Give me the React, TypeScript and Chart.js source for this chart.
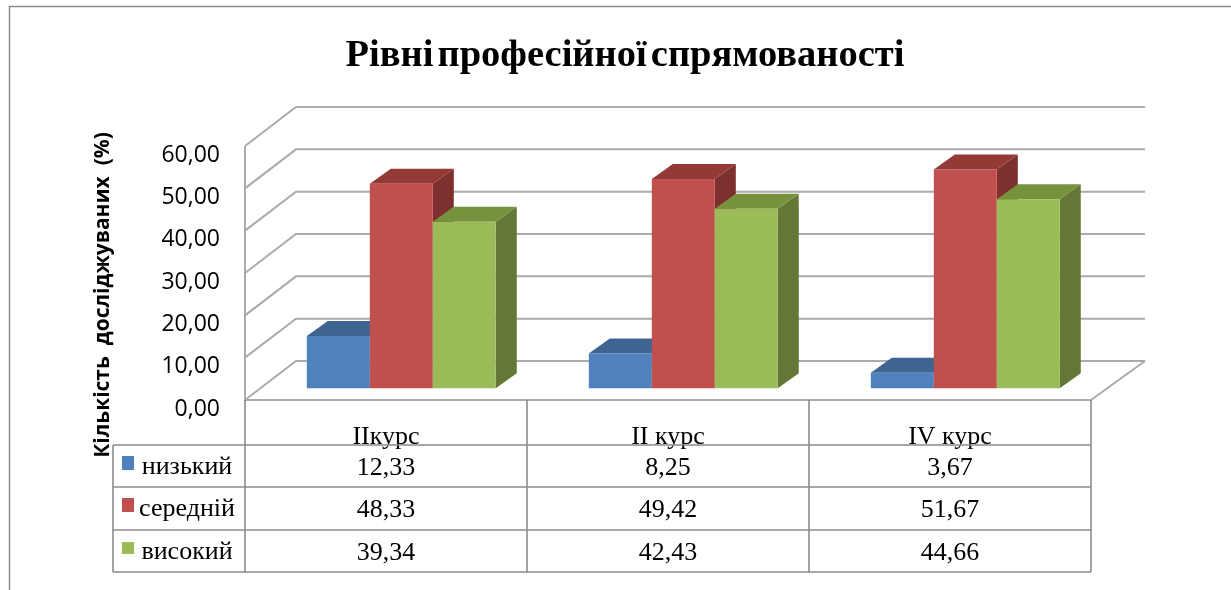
import React, { useEffect, useRef } from "react";
import { Chart, registerables } from "chart.js";

Chart.register(...registerables);

const chartTitle = "Рівні професійної спрямованості";
const yAxisTitle = "Кількість  досліджуваних  (%)";
const categories = ["IIкурс", "II курс", "IV курс"];
const seriesNames = ["низький", "середній", "високий"];
const low = [12.33, 8.25, 3.67];
const medium = [48.33, 49.42, 51.67];
const high = [39.34, 42.43, 44.66];
const seriesValues = [low, medium, high];
const frontColors = ["#4F81BD", "#C0504D", "#9BBB59"];
const topColors = ["#3E6491", "#933A37", "#76923D"];
const sideColors = ["#365E8F", "#7E302E", "#657736"];

const SERIF = '"Liberation Serif"';
const fmt = (v: number) => v.toFixed(2).replace(".", ",");

// 3D geometry (pixels)
const PLOT_TOP = 155;
const PLOT_BOTTOM = 409;
const WALL_UP = 9; // tick labels sit this far below the front wall lines
const WALL_DX = 51;
const WALL_DY = -39;
const BAR_DX = 15.3;
const BAR_DY = -20.7;
const DEPTH_DX = 21;
const DEPTH_DY = -15;
const TABLE_LEFT = 113;
const ROW_LINES = [445, 487, 530, 572];
const ROW_TEXT = [468, 510, 553];
const SWATCH_Y = [456, 498, 542];
const SWATCH_H = [14, 14, 12];

const plugin3d = {
  id: "plugin3d",
  afterLayout(chart: any) {
    // moves the vertical axis title down, next to the data table
    chart.scales.y.bottom += 26;
    // the title's word gaps are narrow in the reference
    const tb = chart.titleBlock;
    if (tb && !tb.__wrapped) {
      tb.__wrapped = true;
      const original = tb.draw;
      tb.draw = function (...args: any[]) {
        tb.ctx.wordSpacing = "-5.5px";
        original.apply(tb, args);
        tb.ctx.wordSpacing = "0px";
      };
    }
  },
  beforeDatasetDraw() {
    return false;
  },
  beforeDatasetsDraw(chart: any) {
    const { ctx, scales } = chart;
    const { x, y } = scales;
    const left = x.left;
    const right = x.right;
    ctx.save();
    ctx.strokeStyle = "#ABABAB";
    ctx.lineWidth = 2;
    ctx.beginPath();
    y.ticks.forEach((t: any) => {
      const yf = y.getPixelForValue(t.value) - WALL_UP;
      ctx.moveTo(left, yf);
      ctx.lineTo(left + WALL_DX, yf + WALL_DY);
      ctx.lineTo(right + WALL_DX + 3, yf + WALL_DY);
    });
    const y0 = y.getPixelForValue(0) - WALL_UP;
    const y60 = y.getPixelForValue(60) - WALL_UP;
    ctx.moveTo(left, y60);
    ctx.lineTo(left, y0);
    ctx.lineTo(right, y0);
    ctx.lineTo(right + WALL_DX + 3, y0 + WALL_DY);
    ctx.stroke();
    ctx.restore();
  },
  afterDatasetsDraw(chart: any) {
    const { ctx, scales } = chart;
    const { x, y } = scales;
    chart.data.datasets.forEach((_: any, i: number) => {
      const meta = chart.getDatasetMeta(i);
      ctx.save();
      ctx.translate(BAR_DX, BAR_DY);
      meta.data.forEach((bar: any) => {
        const l = bar.x - bar.width / 2;
        const r = bar.x + bar.width / 2;
        const t = bar.y;
        const b = bar.base;
        ctx.fillStyle = sideColors[i];
        ctx.beginPath();
        ctx.moveTo(r, t);
        ctx.lineTo(r + DEPTH_DX, t + DEPTH_DY);
        ctx.lineTo(r + DEPTH_DX, b + DEPTH_DY);
        ctx.lineTo(r, b);
        ctx.closePath();
        ctx.fill();
        ctx.fillStyle = topColors[i];
        ctx.beginPath();
        ctx.moveTo(l, t);
        ctx.lineTo(l + DEPTH_DX, t + DEPTH_DY);
        ctx.lineTo(r + DEPTH_DX, t + DEPTH_DY);
        ctx.lineTo(r, t);
        ctx.closePath();
        ctx.fill();
      });
      meta.controller.draw();
      ctx.restore();
    });

    // data table
    const floorY = y.getPixelForValue(0) - WALL_UP;
    const step = (x.right - x.left) / categories.length;
    ctx.save();
    ctx.strokeStyle = "#8C8C8C";
    ctx.lineWidth = 1.6;
    ctx.beginPath();
    ROW_LINES.forEach((ry) => {
      ctx.moveTo(TABLE_LEFT, ry);
      ctx.lineTo(x.right, ry);
    });
    ctx.moveTo(TABLE_LEFT, ROW_LINES[0]);
    ctx.lineTo(TABLE_LEFT, ROW_LINES[3]);
    for (let i = 0; i <= categories.length; i++) {
      ctx.moveTo(x.left + step * i, floorY);
      ctx.lineTo(x.left + step * i, ROW_LINES[3]);
    }
    ctx.stroke();

    ctx.fillStyle = "#000";
    ctx.font = `26px ${SERIF}`;
    ctx.textBaseline = "middle";
    ctx.textAlign = "center";
    seriesValues.forEach((vals, r) => {
      vals.forEach((v, c) => {
        ctx.fillText(fmt(v), x.getPixelForTick(c), ROW_TEXT[r]);
      });
      ctx.fillStyle = frontColors[r];
      ctx.fillRect(122, SWATCH_Y[r], 12, SWATCH_H[r]);
      ctx.fillStyle = "#000";
      ctx.fillText(seriesNames[r], 187, ROW_TEXT[r] - 1);
    });

    // outer frame
    ctx.strokeStyle = "#8C8C8C";
    ctx.lineWidth = 1.5;
    ctx.beginPath();
    ctx.moveTo(9.5, 590);
    ctx.lineTo(9.5, 6.5);
    ctx.lineTo(1231, 6.5);
    ctx.stroke();
    ctx.restore();
  },
};

export default function App() {
  const ref = useRef<HTMLCanvasElement>(null);
  useEffect(() => {
    if (!ref.current) return;
    const chart = new Chart(ref.current, {
      type: "bar",
      data: {
        labels: categories,
        datasets: seriesValues.map((data, i) => ({
          label: seriesNames[i],
          data,
          backgroundColor: frontColors[i],
          categoryPercentage: 0.67,
          barPercentage: 1,
          clip: false,
        })),
      },
      options: {
        responsive: false,
        animation: false,
        layout: { padding: { left: 19, right: 0, top: 0, bottom: 0 } },
        plugins: {
          legend: { display: false },
          tooltip: { enabled: false },
          title: {
            display: true,
            text: chartTitle,
            color: "#000",
            font: { family: SERIF, size: 38.5, weight: "bold" },
            padding: { top: 33, bottom: PLOT_TOP - 33 - 46.2 },
          },
        },
        scales: {
          x: {
            position: "bottom",
            grid: { display: false },
            border: { display: false },
            ticks: {
              color: "#000",
              font: { family: SERIF, size: 26 },
              padding: 5,
              maxRotation: 0,
              autoSkip: false,
            },
            afterFit(s: any) {
              s.height = 590 - PLOT_BOTTOM;
            },
          },
          y: {
            min: 0,
            max: 60,
            position: "left",
            grid: { display: false },
            border: { display: false },
            ticks: {
              stepSize: 10,
              color: "#000",
              font: { family: '"Open Sans"', size: 23 },
              padding: 17,
              callback: (v: any) => fmt(Number(v)),
            },
            title: {
              display: true,
              text: yAxisTitle,
              color: "#000",
              font: { family: '"Open Sans"', size: 21, weight: "bold" },
              padding: { top: 71, bottom: 0 },
            },
            afterFit(s: any) {
              s.width = 245 - 19;
            },
          },
          spacer: {
            type: "linear",
            position: "right",
            display: true,
            grid: { display: false },
            border: { display: false },
            ticks: { display: false },
            afterFit(s: any) {
              s.width = 1231 - 1091;
            },
          },
        },
      },
      plugins: [plugin3d],
    } as any);
    return () => chart.destroy();
  }, []);
  return (
    <div style={{ position: "absolute", left: 0, top: 0, width: 1231, height: 590 }}>
      <canvas ref={ref} width={1231} height={590} style={{ display: "block", filter: "blur(0.5px)" }} />
    </div>
  );
}
